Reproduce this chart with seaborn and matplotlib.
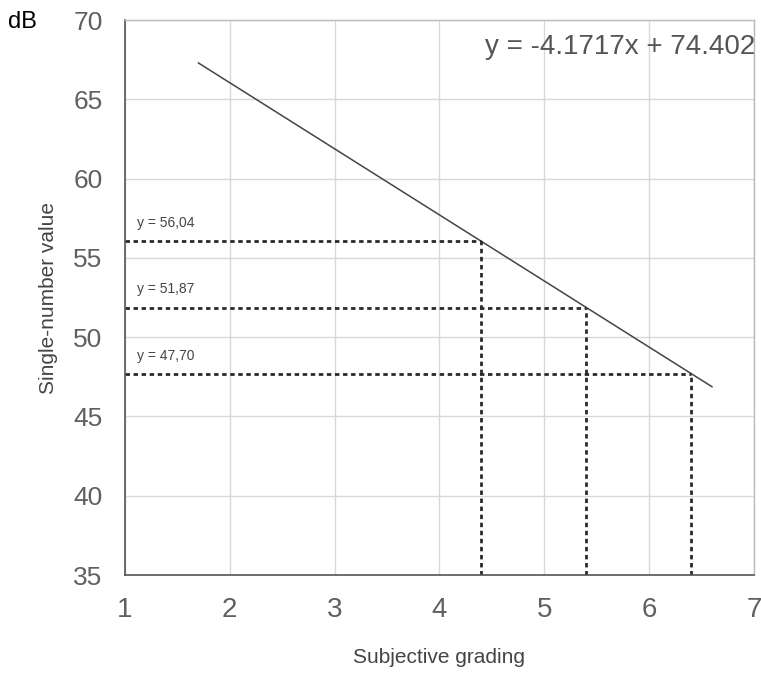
import matplotlib
matplotlib.use("Agg")
import matplotlib.pyplot as plt
import seaborn as sns

# regression line end points
line_x = [1.7, 6.6]
line_y = [67.31, 46.87]
equation = "y = -4.1717x + 74.402"

# dotted guides: subjective grade -> single-number value
guide_x = [4.4, 5.4, 6.4]
guide_y = [56.04, 51.87, 47.70]
guide_labels = ["y = 56,04", "y = 51,87", "y = 47,70"]

x_ticks = [1, 2, 3, 4, 5, 6, 7]
y_ticks = [35, 40, 45, 50, 55, 60, 65, 70]

sns.set_style("white")
plt.rcParams["font.family"] = ["Liberation Sans", "DejaVu Sans"]

fig = plt.figure(figsize=(7.61, 6.73), dpi=100)
ax = fig.add_axes([0.164, 0.1456, 0.827, 0.8244])

ax.grid(True, color="#d8d8d8", linewidth=1)
ax.set_axisbelow(True)

# regression line
sns.lineplot(x=line_x, y=line_y, ax=ax, color="#444444", linewidth=1.1)

# dotted guides
for gx, gy, lab in zip(guide_x, guide_y, guide_labels):
    ax.plot([1, gx], [gy, gy], color="#2a2a2a", linewidth=2,
            linestyle=(0, (1.6, 1.3)), solid_capstyle="butt")
    ax.plot([gx, gx], [35, gy], color="#2a2a2a", linewidth=2,
            linestyle=(0, (1.6, 1.3)), solid_capstyle="butt")
    ax.text(1.12, gy + 0.7, lab, fontsize=10, color="#444444",
            va="bottom", ha="left")

ax.text(4.43, 68.3, equation, fontsize=20, color="#555555",
        va="center", ha="left", clip_on=True)

ax.set_xlim(1, 7)
ax.set_ylim(35, 70)
ax.set_xticks(x_ticks)
ax.set_yticks(y_ticks)
ax.tick_params(axis="x", direction="out", length=7, width=1, color="#555555",
               labelsize=20, labelcolor="#606060", pad=9)
ax.tick_params(axis="y", direction="out", length=6, width=1, color="#555555",
               labelsize=19, labelcolor="#606060", pad=10)

for side in ["left", "bottom"]:
    ax.spines[side].set_color("#555555")
    ax.spines[side].set_linewidth(1.2)
for side in ["top", "right"]:
    ax.spines[side].set_color("#bbbbbb")
    ax.spines[side].set_linewidth(1)

ax.set_xlabel("Subjective grading", fontsize=15, color="#444444", labelpad=18)
ax.set_ylabel("Single-number value", fontsize=15, color="#444444", labelpad=11)

fig.text(0.011, 1 - 22 / 673, "dB", fontsize=17, color="black",
         va="center", ha="left")

fig.savefig("out.png", dpi=100)
